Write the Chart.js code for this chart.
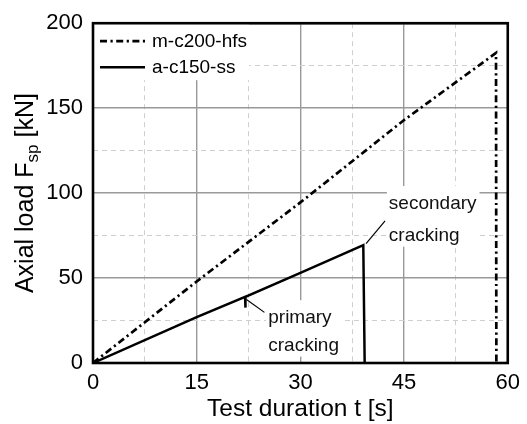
<!DOCTYPE html>
<html><head><meta charset="utf-8">
<script src="https://cdn.jsdelivr.net/npm/chart.js@4.4.0/dist/chart.umd.min.js"></script>
<style>html,body{margin:0;padding:0;background:#fff}#wrap{width:527px;height:424px}</style>
</head><body><div id="wrap"><canvas id="c" width="527" height="424"></canvas></div>
<script>
// ---- data ----
const xTickLabels = ['0', '15', '30', '45', '60'];
const yTickLabels = ['0', '50', '100', '150', '200'];
const seriesNames = ['m-c200-hfs', 'a-c150-ss'];
const hfsTime = [0, 15, 30, 45, 58.3, 58.35];
const hfsLoad = [0, 48, 94.5, 143, 182.5, 0];
const ssTime = [0, 15, 22.0, 22.03, 22.08, 30, 39.1, 39.3];
const ssLoad = [0, 27, 39.0, 32.6, 39.0, 53, 69.4, 0];
const primaryText = ['primary', 'cracking'];
const secondaryText = ['secondary', 'cracking'];
const xTitle = 'Test duration t [s]';
const yTitleParts = ['Axial load F', 'sp', ' [kN]'];

const FONT = '"Liberation Sans", Arial, sans-serif';
const toPts = (xs, ys) => xs.map((v, i) => ({x: v, y: ys[i]}));

// annotation placement (data coordinates)
const notes = [
  {lines: primaryText, x: 25.35, ys: [23.4, 7.3], lead: [[22.2, 37.4], [24.8, 29.8]]},
  {lines: secondaryText, x: 42.8, ys: [90.6, 72.0], lead: [[39.5, 70.2], [42.25, 83.6]]}
];

const decor = {
  id: 'decor',
  beforeDatasetsDraw(chart) {
    const {ctx, chartArea: a, scales: {x, y}} = chart;
    ctx.save();
    // legend
    ctx.fillStyle = '#fff';
    ctx.fillRect(a.left + 1, a.top + 1, 155, 56);
    ctx.font = '19px ' + FONT;
    ctx.textBaseline = 'middle';
    ctx.textAlign = 'left';
    chart.data.datasets.forEach((ds, i) => {
      const yy = a.top + 18 + i * 26;
      ctx.save();
      ctx.strokeStyle = ds.borderColor;
      ctx.lineWidth = ds.borderWidth;
      ctx.setLineDash(ds.borderDash || []);
      ctx.beginPath();
      ctx.moveTo(a.left + 7, yy);
      ctx.lineTo(a.left + 52, yy);
      ctx.stroke();
      ctx.restore();
      ctx.fillStyle = '#000';
      ctx.fillText(ds.label, a.left + 59, yy + 1);
    });
    // annotation labels
    ctx.font = '19px ' + FONT;
    ctx.textBaseline = 'alphabetic';
    notes.forEach(n => {
      const px = x.getPixelForValue(n.x);
      const pys = n.ys.map(v => y.getPixelForValue(v));
      const w = Math.max(...n.lines.map(t => ctx.measureText(t).width));
      ctx.fillStyle = '#fff';
      ctx.fillRect(px - 2, pys[0] - 23, w + 5, pys[pys.length - 1] - pys[0] + 29);
      ctx.fillStyle = '#111';
      n.lines.forEach((t, i) => ctx.fillText(t, px, pys[i]));
    });
    ctx.restore();
  },
  afterDatasetsDraw(chart) {
    const {ctx, chartArea: a, scales: {x, y}} = chart;
    ctx.save();
    ctx.strokeStyle = '#000';
    ctx.lineWidth = 1.2;
    notes.forEach(n => {
      ctx.beginPath();
      ctx.moveTo(x.getPixelForValue(n.lead[0][0]), y.getPixelForValue(n.lead[0][1]));
      ctx.lineTo(x.getPixelForValue(n.lead[1][0]), y.getPixelForValue(n.lead[1][1]));
      ctx.stroke();
    });
    // frame
    ctx.lineWidth = 2.6;
    ctx.strokeRect(a.left, a.top, a.right - a.left, a.bottom - a.top);
    ctx.restore();
  },
  afterDraw(chart) {
    const {ctx, chartArea: a} = chart;
    ctx.save();
    ctx.fillStyle = '#000';
    ctx.textBaseline = 'alphabetic';
    // x title
    ctx.font = '24.5px ' + FONT;
    ctx.textAlign = 'center';
    ctx.fillText(xTitle, (a.left + a.right) / 2, 416);
    // y title with subscript
    const big = '25px ' + FONT, small = '17px ' + FONT;
    ctx.font = big; const w0 = ctx.measureText(yTitleParts[0]).width;
    const w2 = ctx.measureText(yTitleParts[2]).width;
    ctx.font = small; const w1 = ctx.measureText(yTitleParts[1]).width;
    const total = w0 + w1 + w2;
    ctx.translate(33, (a.top + a.bottom) / 2);
    ctx.rotate(-Math.PI / 2);
    ctx.textAlign = 'left';
    let sx = -total / 2;
    ctx.font = big; ctx.fillText(yTitleParts[0], sx, 0); sx += w0;
    ctx.font = small; ctx.fillText(yTitleParts[1], sx, 5); sx += w1;
    ctx.font = big; ctx.fillText(yTitleParts[2], sx, 0);
    ctx.restore();
  }
};

const isMajor = (c, step) => c.tick && Math.abs(c.tick.value / step - Math.round(c.tick.value / step)) < 1e-6;

new Chart(document.getElementById('c'), {
  type: 'scatter',
  data: {
    datasets: [
      {label: seriesNames[0], data: toPts(hfsTime, hfsLoad), showLine: true, pointRadius: 0,
       borderColor: '#000', borderWidth: 2.7, borderDash: [7, 3.5, 2.2, 3.5], tension: 0},
      {label: seriesNames[1], data: toPts(ssTime, ssLoad), showLine: true, pointRadius: 0,
       borderColor: '#000', borderWidth: 2.5, tension: 0}
    ]
  },
  options: {
    responsive: false,
    animation: false,
    devicePixelRatio: 1,
    layout: {padding: {top: 21, right: 15, left: 0, bottom: 0}},
    plugins: {legend: {display: false}, tooltip: {enabled: false}},
    scales: {
      x: {
        type: 'linear', min: 0, max: 60,
        afterFit: s => { s.height = 61; },
        ticks: {
          stepSize: 7.5, autoSkip: false, maxRotation: 0, padding: 7,
          color: '#000', font: {family: FONT, size: 22},
          callback: v => { const i = v / 15; return Number.isInteger(i) ? xTickLabels[i] : ''; }
        },
        grid: {
          drawTicks: false,
          color: c => isMajor(c, 15) ? '#999' : '#cfcfcf',
          lineWidth: c => isMajor(c, 15) ? 1.4 : 1
        },
        border: {display: false, dash: c => (c.tick && !isMajor(c, 15)) ? [5, 4] : []}
      },
      y: {
        type: 'linear', min: 0, max: 200,
        afterFit: s => { s.width = 93; },
        ticks: {
          stepSize: 25, autoSkip: false, padding: 10,
          color: '#000', font: {family: FONT, size: 22},
          callback: v => { const i = v / 50; return Number.isInteger(i) ? yTickLabels[i] : ''; }
        },
        grid: {
          drawTicks: false,
          color: c => isMajor(c, 50) ? '#999' : '#cfcfcf',
          lineWidth: c => isMajor(c, 50) ? 1.4 : 1
        },
        border: {display: false, dash: c => (c.tick && !isMajor(c, 50)) ? [5, 4] : []}
      }
    }
  },
  plugins: [decor]
});
</script>
</body></html>
